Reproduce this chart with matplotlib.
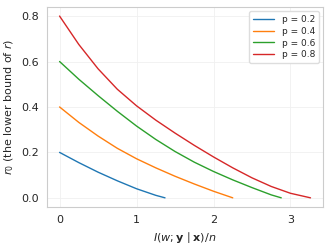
import matplotlib
matplotlib.use("Agg")
import matplotlib.pyplot as plt
import seaborn as sns

# values
labels = ["p = 0.2", "p = 0.4", "p = 0.6", "p = 0.8"]

x_p02 = [0.0, 0.25, 0.5, 0.75, 1.0, 1.25, 1.37]
r_p02 = [0.200, 0.155, 0.113, 0.075, 0.040, 0.011, 0.0]

x_p04 = [0.0, 0.25, 0.5, 0.75, 1.0, 1.25, 1.5, 1.75, 2.0, 2.25]
r_p04 = [0.400, 0.332, 0.272, 0.218, 0.172, 0.132, 0.095, 0.061, 0.029, 0.0]

x_p06 = [0.0, 0.25, 0.5, 0.75, 1.0, 1.25, 1.5, 1.75, 2.0, 2.25, 2.5, 2.75, 2.88]
r_p06 = [0.600, 0.522, 0.450, 0.381, 0.316, 0.257, 0.204, 0.157, 0.116, 0.079,
         0.045, 0.013, 0.0]

x_p08 = [0.0, 0.25, 0.5, 0.75, 1.0, 1.25, 1.5, 1.75, 2.0, 2.25, 2.5, 2.75, 3.0, 3.26]
r_p08 = [0.800, 0.675, 0.568, 0.478, 0.405, 0.342, 0.285, 0.231, 0.180, 0.132,
         0.088, 0.050, 0.020, 0.0]

sns.set_style("whitegrid")
plt.rcParams["font.family"] = ["DejaVu Sans"]

fig = plt.figure(figsize=(3.32, 2.49), dpi=100)
ax = fig.add_axes([0.1416, 0.169, 0.8314, 0.803])

for xs, rs, lab in zip([x_p02, x_p04, x_p06, x_p08],
                       [r_p02, r_p04, r_p06, r_p08], labels):
    ax.plot(xs, rs, label=lab, lw=1.0)

ax.set_xlabel(r"$I(w; \mathbf{y} \mid \mathbf{x})/n$", fontsize=8)
ax.set_ylabel(r"$r_0$ (the lower bound of $r$)", fontsize=8)
ax.set_xticks([0, 1, 2, 3])
ax.set_yticks([0.0, 0.2, 0.4, 0.6, 0.8])
ax.tick_params(labelsize=8, pad=2)
ax.grid(True, color="#f0f0f0", lw=0.6)
for s in ax.spines.values():
    s.set_color("#cccccc")
    s.set_linewidth(0.8)
ax.legend(fontsize=6.5, loc="upper right", handlelength=2.4, borderpad=0.4,
          labelspacing=0.3, framealpha=1, edgecolor="#dddddd")

fig.savefig("out.png", dpi=100)
